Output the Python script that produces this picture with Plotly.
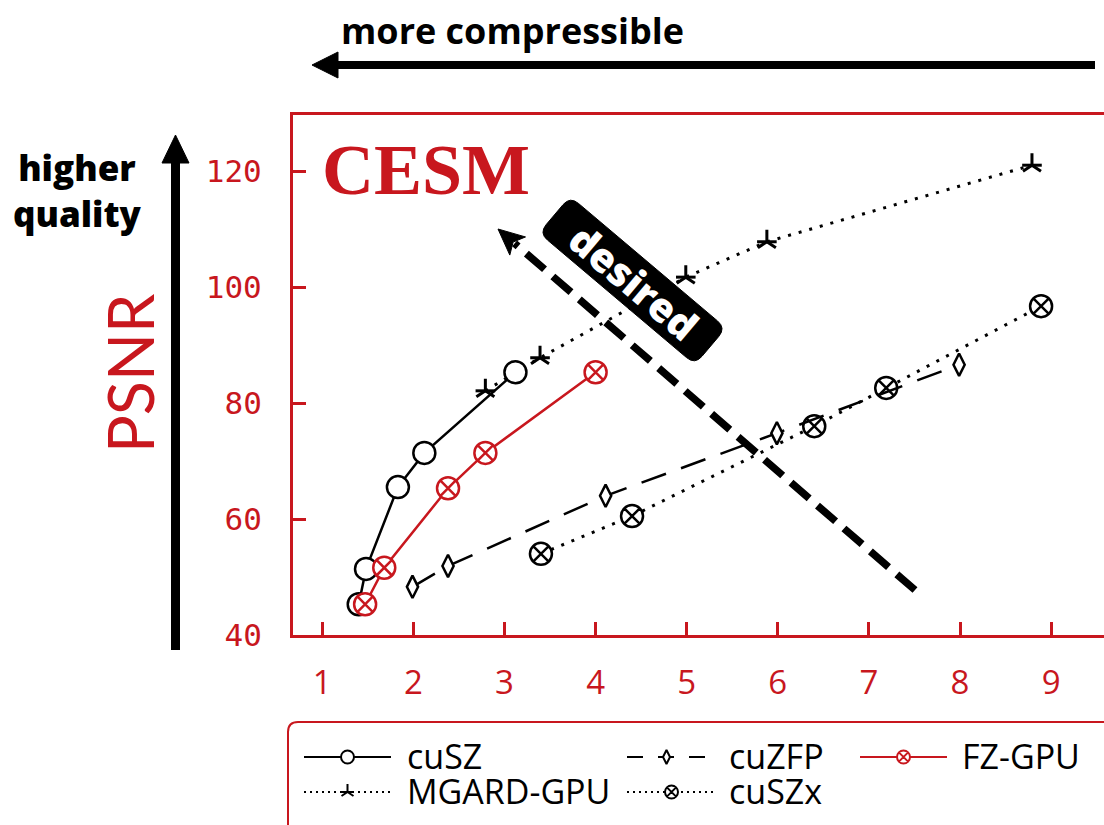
import math
import plotly.graph_objects as go

# PSNR against compression ratio on the CESM dataset
cusz_ratio = [1.40, 1.48, 1.83, 2.12, 3.12]
cusz_psnr = [45.3, 51.4, 65.5, 71.4, 85.3]

fzgpu_ratio = [1.47, 1.68, 2.38, 2.79, 4.00]
fzgpu_psnr = [45.3, 51.6, 65.3, 71.4, 85.3]

mgard_ratio = [2.79, 3.39, 4.99, 5.88, 8.79]
mgard_psnr = [82.1, 87.8, 101.7, 107.8, 121.0]

cuzfp_ratio = [1.99, 2.38, 4.11, 5.99, 7.99]
cuzfp_psnr = [48.3, 51.9, 64.0, 74.8, 86.6]

cuszx_ratio = [3.40, 4.40, 6.40, 7.19, 8.89]
cuszx_psnr = [54.0, 60.5, 76.0, 82.6, 96.7]

x_ticks = [1, 2, 3, 4, 5, 6, 7, 8, 9]
y_ticks = [40, 60, 80, 100, 120]

RED = "#c8171e"
BLACK = "#000000"
W, H = 1104, 825

DOT = "3px,8px"
DASH = "26px,16px"

fig = go.Figure()

# ---- data series ----
fig.add_trace(go.Scatter(
    x=cuszx_ratio, y=cuszx_psnr, mode="lines+markers",
    line=dict(color=BLACK, width=3, dash=DOT),
    marker=dict(symbol="circle-x", size=22, color="white",
                line=dict(color=BLACK, width=2.5)),
    showlegend=False))
fig.add_trace(go.Scatter(
    x=cuzfp_ratio, y=cuzfp_psnr, mode="lines+markers",
    line=dict(color=BLACK, width=2.5, dash=DASH),
    marker=dict(symbol="diamond-tall", size=16, color="white",
                line=dict(color=BLACK, width=2.5)),
    showlegend=False))
fig.add_trace(go.Scatter(
    x=mgard_ratio, y=mgard_psnr, mode="lines+markers",
    line=dict(color=BLACK, width=3, dash=DOT),
    marker=dict(symbol="y-up-open", size=15, color=BLACK, line=dict(width=3)),
    showlegend=False))
fig.add_trace(go.Scatter(
    x=mgard_ratio, y=mgard_psnr, mode="markers",
    marker=dict(symbol="line-ew-open", size=14, color=BLACK, line=dict(width=3)),
    showlegend=False, hoverinfo="skip"))
fig.add_trace(go.Scatter(
    x=cusz_ratio, y=cusz_psnr, mode="lines+markers",
    line=dict(color=BLACK, width=2.5),
    marker=dict(symbol="circle", size=22, color="white",
                line=dict(color=BLACK, width=2.5)),
    showlegend=False))
fig.add_trace(go.Scatter(
    x=fzgpu_ratio, y=fzgpu_psnr, mode="lines+markers",
    line=dict(color=RED, width=2.5),
    marker=dict(symbol="circle-x", size=22, color="white",
                line=dict(color=RED, width=2.5)),
    showlegend=False))

# ---- hand-drawn legend on a pixel-space overlay ----
legend_rows = [757, 792]
legend_samples = [
    # x0, x1, row, line style, marker styles
    (304, 391, 0, dict(color=BLACK, width=2),
     [dict(symbol="circle", size=13, color="white", line=dict(color=BLACK, width=2))]),
    (627, 706, 0, dict(color=BLACK, width=2, dash="16px,15px"),
     [dict(symbol="diamond-tall", size=10, color="white", line=dict(color=BLACK, width=2))]),
    (860, 947, 0, dict(color=RED, width=2),
     [dict(symbol="circle-x", size=13, color="white", line=dict(color=RED, width=2))]),
    (304, 391, 1, dict(color=BLACK, width=2, dash="2px,4px"),
     [dict(symbol="y-up-open", size=10, color=BLACK, line=dict(width=2)),
      dict(symbol="line-ew-open", size=9, color=BLACK, line=dict(width=2))]),
    (627, 716, 1, dict(color=BLACK, width=2, dash="2px,4px"),
     [dict(symbol="circle-x", size=13, color="white", line=dict(color=BLACK, width=2))]),
]
# legend labels, one block per column
legend_columns = [
    (405, ["cuSZ", "MGARD-GPU"]),
    (727, ["cuZFP", "cuSZx"]),
    (960, ["FZ-GPU"]),
]

for x0, x1, row, lstyle, mstyles in legend_samples:
    yy = legend_rows[row]
    fig.add_trace(go.Scatter(x=[x0, x1], y=[yy, yy], mode="lines", line=lstyle,
                             xaxis="x2", yaxis="y2", showlegend=False, hoverinfo="skip"))
for x0, x1, row, lstyle, mstyles in legend_samples:
    yy = legend_rows[row]
    xm = (x0 + x1) / 2
    for ms in mstyles:
        fig.add_trace(go.Scatter(x=[xm], y=[yy], mode="markers", marker=ms,
                                 xaxis="x2", yaxis="y2", showlegend=False, hoverinfo="skip"))

for tx, names in legend_columns:
    label = "<br>".join(f"<span style='font-size:34px'>{n}</span>" for n in names)
    fig.add_annotation(x=tx, y=legend_rows[0] - 26, xref="x2", yref="y2", text=label,
                       showarrow=False, xanchor="left", yanchor="top", align="left",
                       font=dict(family="Open Sans", size=27, color=BLACK))


def rounded_rect(x0, y0, x1, y1, r):
    return (f"M{x0 + r},{y0} L{x1 - r},{y0} Q{x1},{y0} {x1},{y0 + r} "
            f"L{x1},{y1 - r} Q{x1},{y1} {x1 - r},{y1} L{x0 + r},{y1} "
            f"Q{x0},{y1} {x0},{y1 - r} L{x0},{y0 + r} Q{x0},{y0} {x0 + r},{y0} Z")


def rotated_rounded_rect(cx, cy, half_l, half_w, r, ang_deg):
    a = math.radians(ang_deg)
    ax, ay = math.cos(a), math.sin(a)
    bx, by = -math.sin(a), math.cos(a)

    def p(u, v):
        return f"{cx + u * ax + v * bx:.2f},{cy + u * ay + v * by:.2f}"
    L, Wd = half_l, half_w
    return (f"M{p(-L + r, -Wd)} L{p(L - r, -Wd)} Q{p(L, -Wd)} {p(L, -Wd + r)} "
            f"L{p(L, Wd - r)} Q{p(L, Wd)} {p(L - r, Wd)} L{p(-L + r, Wd)} "
            f"Q{p(-L, Wd)} {p(-L, Wd - r)} L{p(-L, -Wd + r)} Q{p(-L, -Wd)} {p(-L + r, -Wd)} Z")


shapes = []
# legend frame (runs off the lower-right edge)
shapes.append(dict(type="path", xref="x2", yref="y2",
                   path=rounded_rect(288, 722, 1140, 870, 10),
                   line=dict(color=RED, width=2), fillcolor="rgba(0,0,0,0)", layer="above"))

# "more compressible" arrow
shapes.append(dict(type="line", xref="x2", yref="y2", x0=334, y0=65, x1=1095, y1=65,
                   line=dict(color=BLACK, width=8), layer="above"))
shapes.append(dict(type="path", xref="x2", yref="y2", path="M312,65 L338,52 L338,78 Z",
                   fillcolor=BLACK, line=dict(color=BLACK, width=1), layer="above"))

# "higher quality" arrow
shapes.append(dict(type="line", xref="x2", yref="y2", x0=175.5, y0=158, x1=175.5, y1=650,
                   line=dict(color=BLACK, width=9), layer="above"))
shapes.append(dict(type="path", xref="x2", yref="y2", path="M175.5,135 L162,163 L189,163 Z",
                   fillcolor=BLACK, line=dict(color=BLACK, width=1), layer="above"))

# "desired" dashed arrow
tail = (915, 590)
tip = (498, 229)
dx, dy = tip[0] - tail[0], tip[1] - tail[1]
dl = math.hypot(dx, dy)
ux, uy = dx / dl, dy / dl
px_, py_ = -uy, ux
head_len, head_half = 26, 12
bx_, by_ = tip[0] - ux * head_len, tip[1] - uy * head_len
shapes.append(dict(type="line", xref="x2", yref="y2", x0=tail[0], y0=tail[1],
                   x1=bx_ + ux * 4, y1=by_ + uy * 4,
                   line=dict(color=BLACK, width=7.5, dash="24px,11px"), layer="above"))
shapes.append(dict(type="path", xref="x2", yref="y2",
                   path=(f"M{tip[0]},{tip[1]} L{bx_ + px_ * head_half:.2f},{by_ + py_ * head_half:.2f} "
                         f"L{tip[0] - ux * (head_len - 6):.2f},{tip[1] - uy * (head_len - 6):.2f} "
                         f"L{bx_ - px_ * head_half:.2f},{by_ - py_ * head_half:.2f} Z"),
                   fillcolor=BLACK, line=dict(color=BLACK, width=1), layer="above"))

# "desired" badge
shapes.append(dict(type="path", xref="x2", yref="y2",
                   path=rotated_rounded_rect(632.5, 280.5, 102, 24, 11, 40.2),
                   fillcolor=BLACK, line=dict(color=BLACK, width=1), layer="above"))

annotations = [
    dict(x=512, y=30, xref="x2", yref="y2", text="more compressible", showarrow=False,
         font=dict(family="Open Sans", size=36, color=BLACK, weight=700)),
    dict(x=77, y=190, xref="x2", yref="y2", text="higher<br>quality", showarrow=False,
         font=dict(family="Open Sans", size=35, color=BLACK, weight=800)),
    dict(x=129, y=373, xref="x2", yref="y2", text="PSNR", showarrow=False, textangle=-90,
         font=dict(family="Lato", size=63, color=RED)),
    dict(x=320, y=170, xref="x2", yref="y2", text="<b>CESM</b>", showarrow=False,
         xanchor="left", yanchor="middle",
         font=dict(family="Liberation Serif", size=72, color=RED)),
    dict(x=634, y=281, xref="x2", yref="y2", text="desired", showarrow=False, textangle=40.2,
         font=dict(family="Open Sans", size=40, color="white", weight=800)),
]
for a in annotations:
    fig.add_annotation(**a)

x_left, x_right = 293, W
x_lo = 1 - (322.3 - x_left) / 91.1
x_hi = 1 + (x_right - 322.3) / 91.1
y_bottom_px, y_top_px = 635, 115
y_hi = 40 + (y_bottom_px - y_top_px) / 5.8

fig.update_layout(
    width=W, height=H, autosize=False,
    margin=dict(l=0, r=0, t=0, b=0, pad=0, autoexpand=False),
    paper_bgcolor="white", plot_bgcolor="rgba(0,0,0,0)",
    showlegend=False,
    shapes=shapes,
    xaxis=dict(domain=[x_left / W, 1], range=[x_lo, x_hi], tickvals=x_ticks,
               ticks="inside", ticklen=13, tickwidth=3, tickcolor=RED,
               showline=True, linecolor=RED, linewidth=3, mirror=True,
               showgrid=False, zeroline=False, ticklabelstandoff=16,
               tickfont=dict(family="Open Sans", size=33, color=RED), anchor="y"),
    yaxis=dict(domain=[(H - y_bottom_px) / H, (H - y_top_px) / H], range=[40, y_hi],
               tickvals=y_ticks, ticks="inside", ticklen=13, tickwidth=3, tickcolor=RED,
               showline=True, linecolor=RED, linewidth=3, mirror=False,
               showgrid=False, zeroline=False, ticklabelstandoff=22,
               tickfont=dict(family="DejaVu Sans Mono", size=31, color=RED), anchor="x"),
    xaxis2=dict(domain=[0, 1], range=[0, W], visible=False, anchor="y2", fixedrange=True),
    yaxis2=dict(domain=[0, 1], range=[H, 0], visible=False, anchor="x2", fixedrange=True),
)

fig.write_html(
    "out.html",
    config={"responsive": False, "displayModeBar": False},
    post_script="document.body.style.margin='0';document.body.style.overflow='hidden';",
)
